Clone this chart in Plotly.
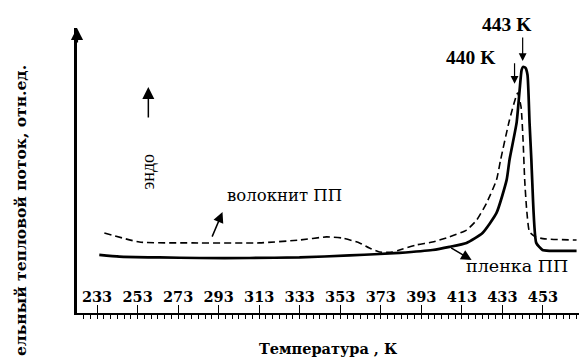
import plotly.graph_objects as go

# ---- data (temperature, K ; relative heat flow, arb. units) ----
T_film = [234.1, 244.0, 263.8, 283.5, 308.2, 332.9, 357.6, 372.4, 382.2, 398.5,
          406.9, 415.3, 423.2, 430.1, 435.1, 436.5, 440.0, 441.5, 442.5, 443.3,
          444.4, 445.4, 446.4, 447.3, 447.7, 449.7, 452.8, 456.3, 469.6]
y_film = [20.4, 19.8, 19.5, 19.3, 19.3, 19.5, 20.2, 20.7, 21.1, 22.1,
          23.2, 24.6, 28.1, 35.1, 46.7, 53.7, 66.7, 78.2, 85.3, 86.4,
          86.0, 83.5, 66.7, 53.7, 46.7, 24.6, 22.1, 21.8, 21.8]

T_fiber = [236.6, 253.9, 280.0, 313.1, 332.9, 346.2, 354.1, 362.5, 367.4, 372.4,
           378.8, 382.2, 390.6, 398.5, 406.9, 415.3, 420.3, 425.2, 430.1, 432.1,
           436.5, 440.5, 442.2, 443.2, 444.0, 445.0, 446.4, 449.4, 453.9, 469.6]
y_fiber = [28.1, 24.9, 24.6, 24.6, 25.6, 26.7, 26.3, 24.6, 22.8, 21.4,
           21.4, 22.1, 23.9, 24.9, 26.7, 29.1, 32.6, 38.6, 46.7, 53.7,
           67.7, 77.2, 72.3, 60.7, 46.7, 36.1, 28.4, 26.7, 26.0, 25.6]

tick_vals = [233, 253, 273, 293, 313, 333, 353, 373, 393, 413, 433, 453]
tick_text = [str(v) for v in tick_vals]

label_fiber = "волокнит ПП"
label_film = "пленка ПП"
peak_film = "443 K"
peak_fiber = "440 K"
x_title = "Температура , К"
y_title = "ельный тепловой поток, отн.ед."
endo = "эндо"

SERIF = "DejaVu Serif"
TIMES = "Liberation Serif"

fig = go.Figure()
fig.add_trace(go.Scatter(
    x=T_fiber, y=y_fiber, mode="lines", hoverinfo="skip",
    line=dict(color="black", width=1.6, dash="7px,4px", shape="spline", smoothing=0.5)))
fig.add_trace(go.Scatter(
    x=T_film, y=y_film, mode="lines", hoverinfo="skip",
    line=dict(color="black", width=2.7, shape="spline", smoothing=0.5)))

fig.update_layout(
    width=579, height=360,
    margin=dict(l=77, r=0, t=28, b=47),
    paper_bgcolor="white", plot_bgcolor="white",
    showlegend=False,
    xaxis=dict(
        range=[223.1, 470.8],
        tickmode="array", tickvals=tick_vals, ticktext=tick_text,
        ticks="inside", ticklen=8, tickwidth=1, tickcolor="black",
        ticklabelposition="inside",
        tickfont=dict(family=SERIF, size=14.5, color="black", weight="bold"),
        showline=True, linecolor="black", linewidth=1.5,
        showgrid=False, zeroline=False,
        minor=dict(ticks="outside", ticklen=4, tickwidth=1, tickcolor="black",
                   tick0=233, dtick=20 / 6, showgrid=False),
    ),
    yaxis=dict(
        range=[0, 100], showline=True, linecolor="black", linewidth=2.5,
        showticklabels=False, ticks="", showgrid=False, zeroline=False,
    ),
)

ann = []
# y-axis arrow head
ann.append(dict(x=0, y=1, xref="paper", yref="paper", text="", showarrow=True,
                axref="pixel", ayref="pixel", ax=0, ay=16,
                arrowhead=2, arrowsize=1.1, arrowwidth=2.2, arrowcolor="black"))
# endo arrow + text
ann.append(dict(x=258.3, y=79.3, xref="x", yref="y", text="", showarrow=True,
                ax=0, ay=32, arrowhead=2, arrowsize=1.6, arrowwidth=1.5, arrowcolor="black"))
ann.append(dict(x=258.3, y=49.8, xref="x", yref="y", text=endo, showarrow=False,
                textangle=-90, font=dict(family=TIMES, size=18, color="black")))
# fiber label + arrow
ann.append(dict(x=325.5, y=41.1, xref="x", yref="y", text=label_fiber, showarrow=False,
                font=dict(family=SERIF, size=16.5, color="black")))
ann.append(dict(x=294.9, y=35.4, xref="x", yref="y", text="", showarrow=True,
                ax=-11, ay=26, arrowhead=2, arrowsize=1.4, arrowwidth=1.5, arrowcolor="black"))
# film label + arrow
ann.append(dict(x=440.0, y=16.5, xref="x", yref="y", text=label_film, showarrow=False,
                font=dict(family=SERIF, size=17.5, color="black")))
ann.append(dict(x=417.8, y=18.6, xref="x", yref="y", text="", showarrow=True,
                ax=-22, ay=-13, arrowhead=2, arrowsize=1.4, arrowwidth=1.5, arrowcolor="black"))
# peak labels + arrows
ann.append(dict(x=435.1, y=1.014, xref="x", yref="paper", text=peak_film, showarrow=False,
                xanchor="center", yanchor="middle",
                font=dict(family=TIMES, size=19.5, color="black", weight="bold")))
ann.append(dict(x=417.3, y=89.5, xref="x", yref="y", text=peak_fiber, showarrow=False,
                xanchor="center", yanchor="middle",
                font=dict(family=TIMES, size=19.5, color="black", weight="bold")))
ann.append(dict(x=443.0, y=88.4, xref="x", yref="y", text="", showarrow=True,
                ax=0, ay=-25, arrowhead=2, arrowsize=1.3, arrowwidth=1.2, arrowcolor="black"))
ann.append(dict(x=439.0, y=80.4, xref="x", yref="y", text="", showarrow=True,
                ax=0, ay=-22, arrowhead=2, arrowsize=1.3, arrowwidth=1.2, arrowcolor="black"))
# axis titles
ann.append(dict(x=0.5, y=0, xref="paper", yref="paper", text=x_title, showarrow=False,
                yshift=-35, yanchor="middle", xanchor="center",
                font=dict(family=SERIF, size=14.5, color="black", weight="bold")))
ann.append(dict(x=0, y=0, xref="paper", yref="paper", text=y_title, showarrow=False,
                xshift=-57, yshift=102, xanchor="center", yanchor="middle", textangle=-90,
                font=dict(family=SERIF, size=15.5, color="black", weight="bold")))
fig.update_layout(annotations=ann)

fig.write_html("out.html",
               config={"displayModeBar": False},
               post_script="document.body.style.margin='0';document.body.style.overflow='hidden';")
